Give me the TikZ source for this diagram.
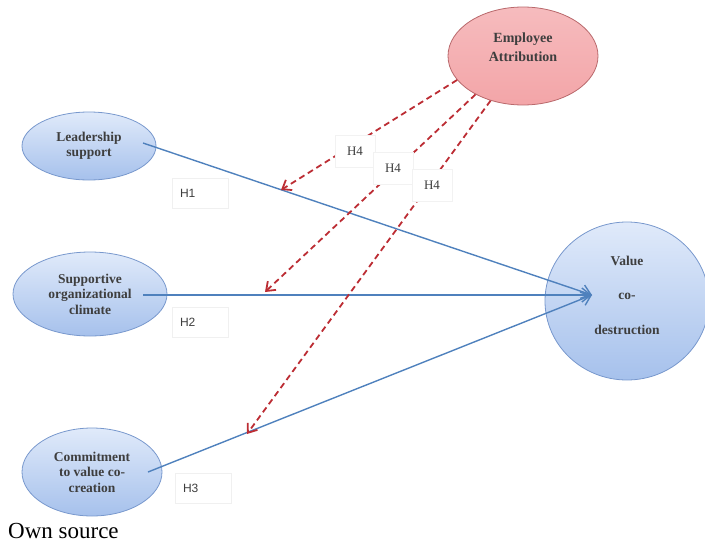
\documentclass[tikz,border=0pt]{standalone}
\usepackage{fontspec}
\setmainfont{Liberation Serif}
\setsansfont{Liberation Sans}
\usetikzlibrary{shapes.geometric,arrows.meta}
\definecolor{ovalblue}{RGB}{166,193,236}
\definecolor{ovallight}{RGB}{224,234,250}
\definecolor{ovalline}{RGB}{120,152,205}
\definecolor{ovalred}{RGB}{243,165,168}
\definecolor{ovalredline}{RGB}{185,105,108}
\definecolor{pathblue}{RGB}{79,129,189}
\definecolor{pathred}{RGB}{188,45,52}
\definecolor{labgray}{RGB}{62,62,62}

\begin{document}
\begin{tikzpicture}[x=1pt,y=-1pt,
    oval/.style={ellipse,draw=ovalline,line width=0.8pt,top color=ovallight,bottom color=ovalblue,
        inner sep=0pt,align=center,text=labgray,font=\fontsize{13.5}{15.5}\selectfont\bfseries},
    redoval/.style={oval,draw=ovalredline,top color=ovalred!75!white,bottom color=ovalred},
    hbox/.style={draw=gray!12,fill=white,text=labgray,inner sep=0pt,minimum height=30,
        text width=#1,align=left},
    hfour/.style={draw=gray!10,fill=white,text=labgray,minimum width=40,minimum height=32,
        inner sep=0pt,font=\fontsize{13}{15}\selectfont},
    hline/.style={pathblue,line width=1.4pt,-{Straight Barb[length=9pt,width=14pt]}},
    h4line/.style={pathred,line width=1.8pt,dash pattern=on 6pt off 4pt,
        -{Straight Barb[length=8pt,width=12pt]}}]
    \useasboundingbox (0,0) rectangle (705,544);

    \node[oval,minimum width=134,minimum height=68] (lead) at (89,146) {Leadership\\support};
    \node[oval,minimum width=154,minimum height=84] (clim) at (90,294) {Supportive\\organizational\\climate};
    \node[oval,minimum width=140,minimum height=88] (comm) at (92,472) {Commitment\\to value co-\\creation};
    \node[redoval,minimum width=150,minimum height=98,text depth=17pt,font=\fontsize{14}{19}\selectfont\bfseries] (ea) at (523,56) {Employee\\Attribution};
    \node[oval,minimum width=164,minimum height=158,text depth=12pt] (val) at (627,301) {Value\\[19pt]co-\\[19pt]destruction};

    \coordinate (tip) at ([shift={(-35,-6)}]val.center);
    \coordinate (ta) at (281,190);
    \coordinate (tb) at (265,292);
    \coordinate (tc) at (247,434);

    \draw[hline] ([shift={(54,-3)}]lead.center) -- (tip);
    \draw[hline] ([shift={(53,1)}]clim.center) -- (tip);
    \draw[hline] ([shift={(56,0)}]comm.center) -- (tip);

    \foreach \a/\t in {200/ta,219/tb,234/tc}
        \draw[h4line] (ea.\a) -- (\t);

    \node[hfour] (h4a) at (355,151) {H4};
    \node[hfour] (h4b) at (393,168) {H4};
    \node[hfour] (h4c) at (432,185) {H4};

    \node[hbox=56pt,font=\sffamily\fontsize{12}{14}\selectfont] (h1) at (200,193) {\hspace{8pt}H1};
    \node[hbox=56pt,font=\sffamily\fontsize{12}{14}\selectfont] (h2) at (200,322) {\hspace{8pt}H2};
    \node[hbox=56pt,font=\sffamily\fontsize{12}{14}\selectfont] (h3) at (203,488) {\hspace{8pt}H3};

    \node[anchor=base west,inner sep=0pt,font=\fontsize{23}{25}\selectfont] (src) at (8,538) {Own source};
\end{tikzpicture}
\end{document}
